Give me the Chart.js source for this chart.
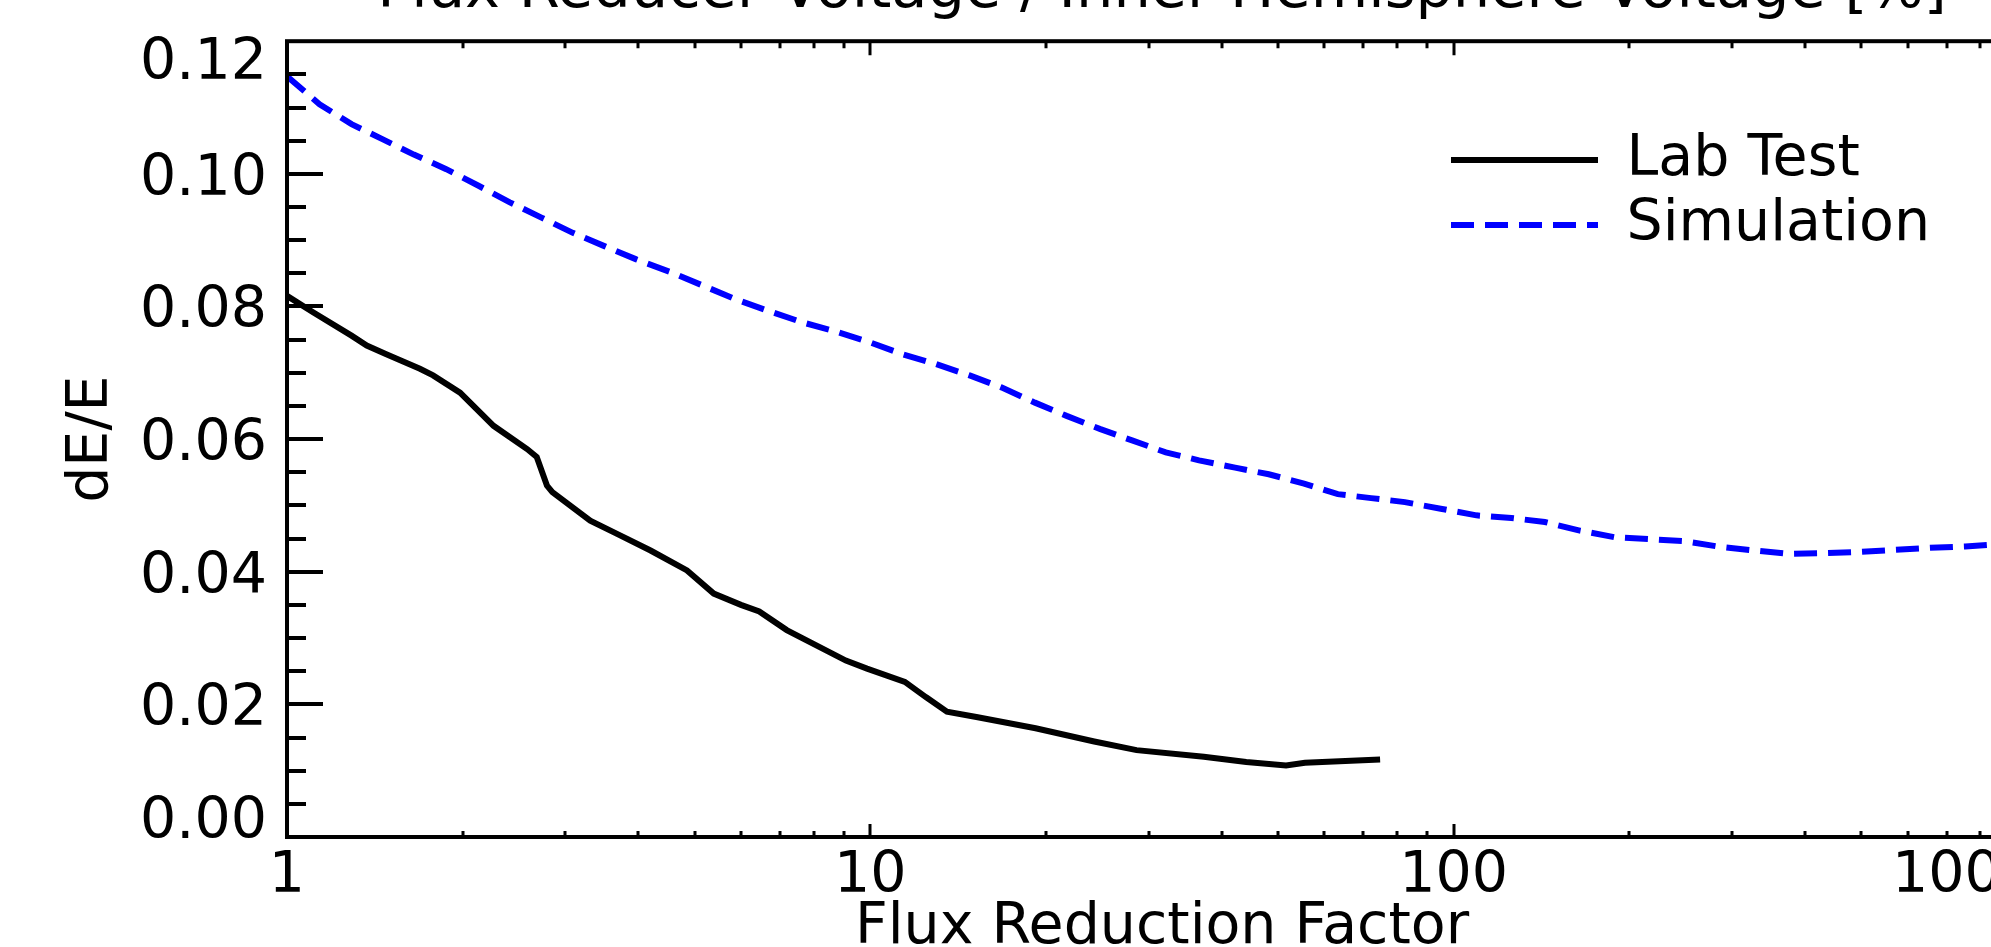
<!DOCTYPE html>
<html>
<head>
<meta charset="utf-8">
<script src="https://cdn.jsdelivr.net/npm/chart.js@4.4.1/dist/chart.umd.min.js"></script>
<style>
  html, body { margin: 0; padding: 0; background: #fff; overflow: hidden; width: 1991px; height: 947px; }
  #wrap { position: absolute; left: 0; top: -60px; width: 2150px; height: 1040px; }
</style>
</head>
<body>
<div id="wrap"><canvas id="c" width="2150" height="1040" style="width:2150px;height:1040px"></canvas></div>
<script>
// ---------- data ----------
const TITLE = 'Flux Reducer Voltage / Inner Hemisphere Voltage [%]';
const X_TITLE = 'Flux Reduction Factor';
const Y_TITLE = 'dE/E';
const SERIES_NAMES = ['Lab Test', 'Simulation'];

const labX = [1, 1.11, 1.29, 1.37, 1.48, 1.69, 1.78, 1.98, 2.26, 2.58, 2.68, 2.79, 2.85, 3.31, 3.68, 4.20, 4.85, 5.39, 6.0, 6.45, 7.19, 9.08, 9.87, 11.46, 12.45, 13.53, 15.2, 19.2, 24.2, 28.6, 37.3, 44.1, 51.6, 55.6, 66.7, 74.8];
const labY = [0.0816, 0.0791, 0.0756, 0.0741, 0.0728, 0.0706, 0.0696, 0.0670, 0.0620, 0.0585, 0.0573, 0.0530, 0.0520, 0.0477, 0.0457, 0.0432, 0.0402, 0.0367, 0.0350, 0.0340, 0.0312, 0.0266, 0.0254, 0.0234, 0.0211, 0.0189, 0.0181, 0.0164, 0.0144, 0.0131, 0.0121, 0.0113, 0.0108, 0.0112, 0.0115, 0.0117];

const simX = [1, 1.137, 1.29, 1.46, 1.65, 1.875, 2.13, 2.41, 2.73, 3.09, 3.50, 3.97, 4.57, 5.18, 5.87, 6.70, 7.65, 8.67, 9.98, 11.35, 12.97, 14.8, 16.77, 19.15, 21.7, 24.8, 28.1, 32.1, 36.6, 42.2, 48.2, 55.4, 63.3, 72.2, 82.5, 95, 109.4, 125.6, 143.3, 164.5, 188.9, 217.8, 249.6, 284, 327.5, 374.6, 427.5, 495.7, 570.9, 655.6, 753.5, 840, 1000];
const simY = [0.1147, 0.1105, 0.1075, 0.1052, 0.1029, 0.1007, 0.0982, 0.0957, 0.0934, 0.0911, 0.0891, 0.0871, 0.0851, 0.0831, 0.0811, 0.0793, 0.0776, 0.0763, 0.0746, 0.0728, 0.0713, 0.0696, 0.0678, 0.0655, 0.0635, 0.0615, 0.0598, 0.0580, 0.0568, 0.0557, 0.0547, 0.0533, 0.0517, 0.0511, 0.0505, 0.0495, 0.0485, 0.0481, 0.0475, 0.0462, 0.0452, 0.0449, 0.0446, 0.0438, 0.0432, 0.0427, 0.0428, 0.0430, 0.0433, 0.0436, 0.0438, 0.0441, 0.0445];

const X_RANGE = [1, 1000];
const Y_RANGE = [0, 0.12];
const X_TICKS = [1, 10, 100, 1000];
const X_TICK_LABELS = ['1', '10', '100', '1000'];
const Y_TICKS = [0, 0.02, 0.04, 0.06, 0.08, 0.10, 0.12];
const Y_TICK_LABELS = ['0.00', '0.02', '0.04', '0.06', '0.08', '0.10', '0.12'];
const Y_MINOR_STEP = 0.005;
const X_MINOR_MULTS = [2, 3, 4, 5, 6, 7, 8, 9];

// ---------- style ----------
const FONT_FAMILY = '"DejaVu Sans", "Liberation Sans", sans-serif';
const FONT_SIZE = 57;
const font = { family: FONT_FAMILY, size: FONT_SIZE, weight: 'normal' };
const titleFont = { family: FONT_FAMILY, size: 59, weight: 'normal' };

const idlFrame = {
  id: 'idlFrame',
  afterLayout(chart) {
    const lg = chart.legend;
    if (lg) {
      lg.left = 1451 - 8;
      lg.top = 183.5;
      lg.right = lg.left + lg.width;
      lg.bottom = lg.top + 400;
    }
  },
  afterDraw(chart) {
    const { ctx, chartArea: a } = chart;
    const xs = chart.scales.x, ys = chart.scales.y;
    ctx.save();
    ctx.strokeStyle = '#000';
    ctx.lineCap = 'butt';
    // frame
    ctx.lineWidth = 4;
    ctx.strokeRect(a.left, a.top, a.right - a.left, a.bottom - a.top);
    // y ticks (inward)
    ctx.lineWidth = 4;
    const nY = Math.round((Y_RANGE[1] - Y_RANGE[0]) / Y_MINOR_STEP);
    for (let k = 1; k < nY; k++) {
      const v = Y_RANGE[0] + k * Y_MINOR_STEP;
      const py = Math.round(ys.getPixelForValue(v));
      const len = (k % 4 === 0) ? 36 : 19;
      ctx.beginPath();
      ctx.moveTo(a.left, py); ctx.lineTo(a.left + len, py);
      ctx.moveTo(a.right, py); ctx.lineTo(a.right - len, py);
      ctx.stroke();
    }
    // x ticks (inward)
    ctx.lineWidth = 3;
    const vals = [];
    X_TICKS.forEach(t => { vals.push([t, true]); X_MINOR_MULTS.forEach(m => { if (t * m < X_RANGE[1]) vals.push([t * m, false]); }); });
    vals.forEach(([v, major]) => {
      if (v <= X_RANGE[0] || v >= X_RANGE[1]) return;
      const px = Math.round(xs.getPixelForValue(v));
      const lb = major ? 13 : 6, lt = major ? 14 : 7;
      ctx.beginPath();
      ctx.moveTo(px, a.bottom); ctx.lineTo(px, a.bottom - lb);
      ctx.moveTo(px, a.top); ctx.lineTo(px, a.top + lt);
      ctx.stroke();
    });
    // tick labels
    ctx.fillStyle = '#000';
    ctx.font = FONT_SIZE + 'px ' + FONT_FAMILY;
    ctx.textBaseline = 'alphabetic';
    ctx.textAlign = 'right';
    Y_TICKS.forEach((v, i) => {
      const py = ys.getPixelForValue(v);
      let base = py + 21;
      if (base < a.top + 38) base = a.top + 38;
      if (base > a.bottom + 1) base = a.bottom + 1;
      ctx.fillText(Y_TICK_LABELS[i], a.left - 20, base);
    });
    X_TICKS.forEach((v, i) => {
      const px = xs.getPixelForValue(v);
      const last = i === X_TICKS.length - 1;
      ctx.textAlign = last ? 'right' : 'center';
      ctx.fillText(X_TICK_LABELS[i], px, a.bottom + 55);
    });
    ctx.restore();
  }
};

const toPts = (xa, ya) => xa.map((v, i) => ({ x: v, y: ya[i] }));

new Chart(document.getElementById('c'), {
  type: 'line',
  data: {
    datasets: [
      {
        label: SERIES_NAMES[0],
        data: toPts(labX, labY),
        borderColor: '#000000',
        backgroundColor: '#000000',
        borderWidth: 6,
        pointRadius: 0,
        pointStyle: 'line',
        tension: 0,
        fill: false
      },
      {
        label: SERIES_NAMES[1],
        data: toPts(simX, simY),
        borderColor: '#0000ff',
        backgroundColor: '#0000ff',
        borderWidth: 6,
        borderDash: [23, 11],
        pointRadius: 0,
        pointStyle: 'line',
        tension: 0,
        fill: false
      }
    ]
  },
  options: {
    responsive: false,
    animation: false,
    devicePixelRatio: 1,
    layout: { padding: { left: 0, right: 113, top: 0, bottom: 0 } },
    plugins: {
      title: {
        display: true, text: TITLE, fullSize: false, color: '#000',
        font: titleFont, padding: { top: 15.9, bottom: 14.5 }
      },
      legend: {
        position: 'chartArea', align: 'start',
        labels: {
          usePointStyle: true, pointStyleWidth: 147, color: '#000', font: font, padding: 8,
          generateLabels(chart) {
            const items = Chart.defaults.plugins.legend.labels.generateLabels(chart);
            items.forEach(it => {
              const ds = chart.data.datasets[it.datasetIndex];
              it.lineDash = ds.borderDash || [];
              it.lineWidth = ds.borderWidth;
              it.strokeStyle = ds.borderColor;
              it.lineCap = 'butt';
            });
            return items;
          }
        }
      },
      tooltip: { enabled: false }
    },
    scales: {
      x: {
        type: 'logarithmic', min: X_RANGE[0], max: X_RANGE[1],
        ticks: { display: false }, grid: { display: false, drawTicks: false }, border: { display: false },
        title: { display: true, text: X_TITLE, color: '#000', font: font, padding: { top: 0, bottom: 17.5 } },
        afterFit(s) { s.height = 143; }
      },
      y: {
        type: 'linear', min: Y_RANGE[0], max: Y_RANGE[1],
        ticks: { display: false }, grid: { display: false, drawTicks: false }, border: { display: false },
        title: { display: true, text: Y_TITLE, color: '#000', font: font, padding: { top: 58, bottom: 0 } },
        afterFit(s) { s.width = 287; }
      }
    }
  },
  plugins: [idlFrame]
});
</script>
</body>
</html>
